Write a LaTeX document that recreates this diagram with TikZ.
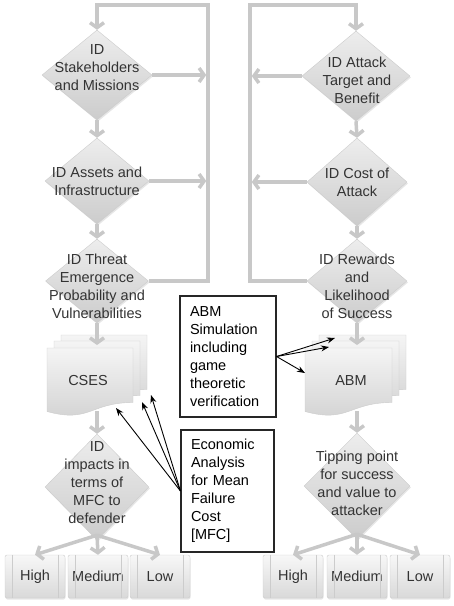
\documentclass[tikz,border=0pt]{standalone}
\usepackage{fontspec}
\setmainfont{Liberation Sans}
\usetikzlibrary{shapes.geometric,arrows.meta,shadows}

\definecolor{flowgray}{HTML}{C8C8C8}
\definecolor{txtgray}{HTML}{333333}

\tikzset{
  dia/.style={diamond,draw=gray!40,line width=0.4pt,top color=gray!14,bottom color=gray!40,
    inner sep=0pt,drop shadow={opacity=0.2,shadow xshift=1pt,shadow yshift=-1.5pt}},
  diatext/.style={align=center,text=txtgray,inner sep=0pt,font=\fontsize{14.5}{18}\selectfont},
  page/.style={draw=gray!40,line width=0.4pt,top color=gray!8,bottom color=gray!36},
  flow/.style={draw=flowgray,line width=3.5pt,-{Straight Barb[length=5pt,width=14pt]}},
  loopline/.style={draw=flowgray,line width=3.5pt,line join=miter},
  outcome/.style={rectangle,rounded corners=2pt,draw=gray!40,top color=gray!6,bottom color=gray!30,
    minimum width=60pt,minimum height=43pt,text=txtgray,font=\fontsize{14.5}{18}\selectfont,
    drop shadow={opacity=0.2,shadow xshift=0.5pt,shadow yshift=-1.5pt}},
  notebox/.style={rectangle,draw=black!85,line width=1.1pt,fill=white,align=left,
    inner xsep=10pt,inner ysep=0pt,font=\fontsize{14.5}{18}\selectfont},
  ptr/.style={draw=black,line width=0.9pt,-{Stealth[length=8pt,width=6pt]}}
}

\begin{document}
\begin{tikzpicture}[x=1pt,y=-1pt]
\useasboundingbox (0,0) rectangle (454,606);

% stacked documents
\foreach \dx/\dy in {14/-13,7/-7,0/0}{
  \draw[page] ({47+\dx},{348+\dy}) -- ++(86,0) -- ++(0,54.5)
    .. controls +(-43,0) and +(43,11.8) .. ++(-86,9) -- cycle;
  \draw[page] ({305+\dx},{348+\dy}) -- ++(87,0) -- ++(0,54.5)
    .. controls +(-43.5,0) and +(43.5,11.8) .. ++(-87,9) -- cycle;
}
\node[diatext] (cses) at (88,381) {CSES};
\node[diatext] (abmdoc) at (351,381) {ABM};
\coordinate (csestop) at (97,345);
\coordinate (csesbot) at (97,411);
\coordinate (abmtop) at (357,345);
\coordinate (abmbot) at (357,411);

% defender side
\node[dia,minimum width=110pt,minimum height=90pt] (d1) at (97,75) {};
\node[dia,minimum width=104pt,minimum height=86pt] (d2) at (97,181) {};
\node[dia,minimum width=103pt,minimum height=84pt] (d3) at (97,281) {};
\node[dia,minimum width=104pt,minimum height=106pt] (d4) at (97,487) {};
\node[diatext] (t1) at (97,68) {ID\\Stakeholders\\and Missions};
\node[diatext] (t2) at (97,181) {ID Assets and\\Infrastructure};
\node[diatext] (t3) at (97,286) {ID Threat\\Emergence\\Probability and\\Vulnerabilities};
\node[diatext] (t4) at (97,483) {ID\\impacts in\\terms of\\MFC to\\defender};

% attacker side
\node[dia,minimum width=108pt,minimum height=90pt] (d5) at (356,76) {};
\node[dia,minimum width=100pt,minimum height=88pt] (d6) at (357,182) {};
\node[dia,minimum width=100pt,minimum height=84pt] (d7) at (357,281) {};
\node[dia,minimum width=106pt,minimum height=106pt] (d8) at (357,486) {};
\node[diatext] (t5) at (357,80) {ID Attack\\Target and\\Benefit};
\node[diatext] (t6) at (357,182) {ID Cost of\\Attack};
\node[diatext] (t7) at (357,286) {ID Rewards\\and\\Likelihood\\of Success};
\node[diatext] (t8) at (357,483) {Tipping point\\for success\\and value to\\attacker};

% outcomes
\node[outcome] (lh) at (35,576.5) {High};
\node[outcome] (lm) at (98,576.5) {Medium};
\node[outcome] (ll) at (160,576.5) {Low};
\node[outcome] (rh) at (293,576.5) {High};
\node[outcome] (rm) at (357,576.5) {Medium};
\node[outcome] (rl) at (420,576.5) {Low};
\foreach \b in {lh,lm,ll,rh,rm,rl}{
  \draw[gray!40,line width=0.5pt] ([xshift=7pt]\b.north west) -- ([xshift=7pt]\b.south west);
  \draw[gray!40,line width=0.5pt] ([xshift=-7pt]\b.north east) -- ([xshift=-7pt]\b.south east);
}

% feedback loops
\coordinate (la) at (208,281);
\coordinate (lb) at (208,5);
\coordinate (lc) at (97,5);
\coordinate (ra) at (250,281);
\coordinate (rb) at (250,5);
\coordinate (rc) at (356,5);
\draw[loopline] (d3.east) -- (la) -- (lb) -- (lc) -- ([yshift=2pt]lc);
\draw[flow] (lc) -- (d1.north);
\draw[flow] (d1.east) -- ([xshift=-1.75pt]d1.east -| la);
\draw[flow] (d2.east) -- ([xshift=-1.75pt]d2.east -| la);
\draw[loopline] (d7.west) -- (ra) -- (rb) -- (rc) -- ([yshift=-2pt]rc);
\draw[flow] (rc) -- (d5.north);
\draw[flow] (d5.west) -- ([xshift=1.75pt]d5.west -| ra);
\draw[flow] (d6.west) -- ([xshift=1.75pt]d6.west -| ra);

% main flow
\draw[flow] (d1.south) -- (d2.north);
\draw[flow] (d2.south) -- (d3.north);
\draw[flow] (d3.south) -- (csestop);
\draw[flow] (csesbot) -- (d4.north);
\draw[flow] ([yshift=5pt]d4.south) -- (lh.north);
\draw[flow] ([yshift=5pt]d4.south) -- (lm.north);
\draw[flow] ([yshift=5pt]d4.south) -- (ll.north);
\draw[flow] (d5.south) -- (d6.north);
\draw[flow] (d6.south) -- (d7.north);
\draw[flow] (d7.south) -- (abmtop);
\draw[flow] (abmbot) -- (d8.north);
\draw[flow] ([yshift=5pt]d8.south) -- (rh.north);
\draw[flow] ([yshift=5pt]d8.south) -- (rm.north);
\draw[flow] ([yshift=5pt]d8.south) -- (rl.north);

% notes
\node[notebox,text width=76pt,minimum height=121pt] (sim) at (228,356.5)
  {ABM\\Simulation\\including\\game\\theoretic\\verification};
\node[notebox,text width=73pt,minimum height=122pt] (econ) at (227.5,491)
  {Economic\\Analysis\\for Mean\\Failure\\Cost\\{[MFC]}};
\coordinate (abmback) at (335,338);
\coordinate (abmmid) at (329,347);
\coordinate (abmfront) at (305,373);
\coordinate (csesback) at (151,395);
\coordinate (csesmid) at (142,402);
\coordinate (csesfront) at (116,408);
\draw[ptr] (sim.east) -- (abmback);
\draw[ptr] (sim.east) -- (abmmid);
\draw[ptr] (sim.east) -- (abmfront);
\draw[ptr] (econ.west) -- (csesback);
\draw[ptr] (econ.west) -- (csesmid);
\draw[ptr] (econ.west) -- (csesfront);
\end{tikzpicture}
\end{document}
